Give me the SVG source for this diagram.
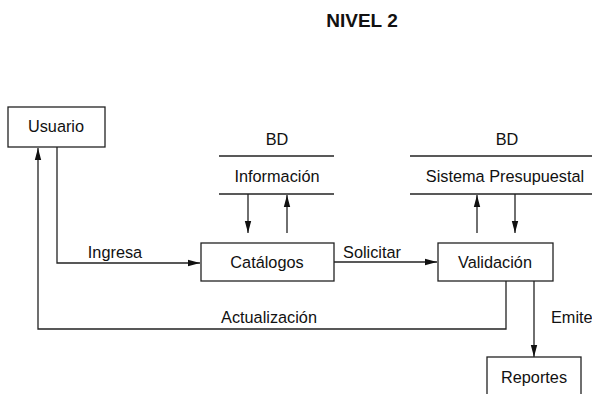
<svg xmlns="http://www.w3.org/2000/svg" width="592" height="394" viewBox="0 0 592 394">
<defs>
<marker id="ah" viewBox="0 0 12 10" refX="12" refY="5" markerWidth="12" markerHeight="10" markerUnits="userSpaceOnUse" orient="auto">
<path d="M0,1.8 L12,5 L0,8.2 z" fill="#111"/>
</marker>
<style>
.box{fill:#fff;stroke:#222;stroke-width:1.3}
.ln{fill:none;stroke:#222;stroke-width:1.3}
.t{font-family:"Liberation Sans",Arial,sans-serif;font-size:16.3px;fill:#111}
.c{text-anchor:middle}
</style>
</defs>
<rect width="592" height="394" fill="#fff"/>
<text x="362" y="27" class="t c" style="font-size:19px;font-weight:bold">NIVEL 2</text>

<g id="connectors">
<polyline class="ln" points="57,147 57,263 200,263" marker-end="url(#ah)"/>
<text x="115" y="258" class="t c">Ingresa</text>
<line class="ln" x1="334" y1="262" x2="437" y2="262" marker-end="url(#ah)"/>
<text x="372" y="258" class="t c">Solicitar</text>
<polyline class="ln" points="506,281 506,329 38,329 38,148" marker-end="url(#ah)"/>
<text x="269" y="323" class="t c">Actualización</text>
<line class="ln" x1="534" y1="281" x2="534" y2="357" marker-end="url(#ah)"/>
<text x="551" y="323" class="t">Emite</text>
<line class="ln" x1="248" y1="194" x2="248" y2="233" marker-end="url(#ah)"/>
<line class="ln" x1="287" y1="233" x2="287" y2="195" marker-end="url(#ah)"/>
<line class="ln" x1="477" y1="233" x2="477" y2="195" marker-end="url(#ah)"/>
<line class="ln" x1="515" y1="194" x2="515" y2="233" marker-end="url(#ah)"/>
</g>

<g id="usuario">
<rect class="box" x="8" y="107" width="97" height="40"/>
<text x="56" y="132" class="t c">Usuario</text>
</g>

<g id="bd-informacion">
<text x="277" y="145" class="t c">BD</text>
<line class="ln" x1="219" y1="156" x2="334" y2="156"/>
<text x="277" y="182" class="t c">Información</text>
<line class="ln" x1="219" y1="194" x2="334" y2="194"/>
</g>

<g id="bd-sistema">
<text x="507" y="145" class="t c">BD</text>
<line class="ln" x1="410" y1="156" x2="592" y2="156"/>
<text x="505" y="182" class="t c">Sistema Presupuestal</text>
<line class="ln" x1="410" y1="194" x2="592" y2="194"/>
</g>

<g id="catalogos">
<rect class="box" x="201" y="243" width="133" height="38"/>
<text x="267" y="268" class="t c">Catálogos</text>
</g>

<g id="validacion">
<rect class="box" x="438" y="243" width="115" height="38"/>
<text x="495" y="268" class="t c">Validación</text>
</g>

<g id="reportes">
<rect class="box" x="487" y="357" width="94" height="45"/>
<text x="534" y="383" class="t c">Reportes</text>
</g>
</svg>
